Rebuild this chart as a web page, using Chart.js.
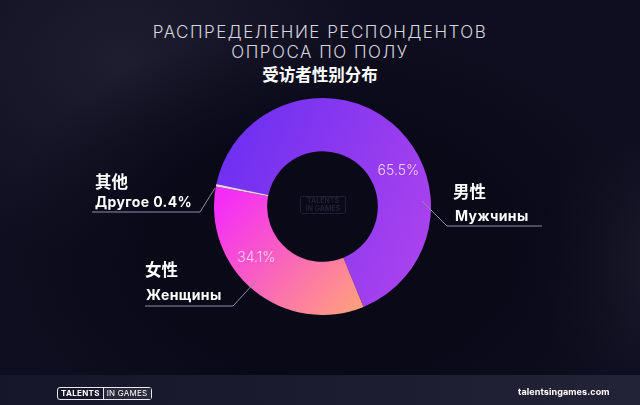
<!DOCTYPE html>
<html>
<head>
<meta charset="utf-8">
<script src="https://cdn.jsdelivr.net/npm/chart.js@4.4.1/dist/chart.umd.min.js"></script>
<style>
  html, body { margin:0; padding:0; }
  body {
    width:640px; height:405px; overflow:hidden; position:relative;
    font-family: "Inter", "Noto Sans", sans-serif;
    background:
      radial-gradient(ellipse 330px 230px at 330px 250px, #0a0918 55%, rgba(10,9,24,0) 100%),
      radial-gradient(ellipse 260px 200px at 120px 60px, #1e1d30 0%, rgba(30,29,48,0) 100%),
      radial-gradient(ellipse 120px 120px at 640px 260px, #1b1a2c 0%, rgba(27,26,44,0) 100%),
      #0f0e20;
  }
  .t1 { position:absolute; left:0; width:640px; text-align:center; color:#d6d5de;
        font-size:17px; font-weight:300; letter-spacing:1.5px; line-height:20px; }
  .cn { position:absolute; left:0; width:640px; text-align:center; color:#fff;
        font-family:"Noto Sans CJK SC"; font-weight:700; font-size:16.5px; top:64px; line-height:20px; }
  .lbl { position:absolute; color:#fff; font-weight:700; white-space:nowrap; }
  .zh { font-family:"Noto Sans CJK SC"; font-size:16.5px; line-height:20px; }
  .ru { font-family:"Inter","Noto Sans",sans-serif; font-size:14px; line-height:18px; letter-spacing:0.4px; }
  #wrap { position:absolute; left:214px; top:98px; width:217px; height:217px; }
  #footer { position:absolute; left:0; top:375px; width:640px; height:30px;
            background: linear-gradient(90deg, #16162a 0%, #1d1d31 60%, #232338 100%); }
  .logo { position:absolute; left:57px; top:387px; height:11px; border:1.3px solid #e8e8f0; border-radius:3px;
          display:flex; align-items:center; font-size:8px; color:#fff; line-height:11px; }
  .logo .a { font-weight:700; padding:0 3px; border-right:1.3px solid #e8e8f0; letter-spacing:0.3px; }
  .logo .b { font-weight:400; padding:0 4px 0 3px; background:#2a2a3c; letter-spacing:0.2px; }
  .site { position:absolute; left:518px; top:385px; color:#fff; font-weight:700; font-size:9px; line-height:14px; letter-spacing:0.1px; }
  .wm { position:absolute; left:300px; top:196px; width:44px; text-align:center; color:#222136;
        font-size:7px; font-weight:700; line-height:8px; border:1px solid #1f1e33; border-radius:2px; }
  svg { position:absolute; left:0; top:0; }
</style>
</head>
<body>
<div class="t1" style="top:22px">РАСПРЕДЕЛЕНИЕ РЕСПОНДЕНТОВ</div>
<div class="t1" style="top:42px">ОПРОСА ПО ПОЛУ</div>
<div class="cn">受访者性别分布</div>

<div id="wrap"><canvas id="c" width="217" height="217"></canvas></div>
<div class="wm">TALENTS<br>IN GAMES</div>

<svg width="640" height="405">
  <polyline points="422,201 447,226 542,226" fill="none" stroke="#8e8ea6" stroke-width="1"/>
  <polyline points="92,212 200,212 215,188" fill="none" stroke="#8e8ea6" stroke-width="1"/>
  <polyline points="145,306 233,306 256,281" fill="none" stroke="#8e8ea6" stroke-width="1"/>
</svg>

<div class="lbl zh" style="left:453px;top:181px">男性</div>
<div class="lbl ru" style="left:455px;top:207px">Мужчины</div>
<div class="lbl zh" style="left:95px;top:171px">其他</div>
<div class="lbl ru" style="left:95px;top:193px">Другое 0.4%</div>
<div class="lbl zh" style="left:145px;top:259px">女性</div>
<div class="lbl ru" style="left:146px;top:286px">Женщины</div>

<div id="footer"></div>
<div class="logo"><span class="a">TALENTS</span><span class="b">IN GAMES</span></div>
<div class="site">talentsingames.com</div>

<script>
const categories = ["Мужчины", "Женщины", "Другое"];
const values = [65.5, 34.1, 0.4];
const valueLabels = ["65.5%", "34.1%", ""];

function grad(ctx, area, x0, y0, x1, y1, c0, c1) {
  const g = ctx.createLinearGradient(area.left + x0 * area.width, area.top + y0 * area.height,
                                     area.left + x1 * area.width, area.top + y1 * area.height);
  g.addColorStop(0, c0); g.addColorStop(1, c1);
  return g;
}

const pctPlugin = {
  id: 'pct',
  afterDatasetsDraw(chart) {
    const ctx = chart.ctx;
    const meta = chart.getDatasetMeta(0);
    ctx.save();
    ctx.font = '300 14px Inter, "Noto Sans", sans-serif';
    ctx.fillStyle = 'rgba(248,225,250,0.88)';
    ctx.textAlign = 'center';
    ctx.textBaseline = 'middle';
    meta.data.forEach((arc, i) => {
      if (!valueLabels[i]) return;
      const p = arc.getProps(['x','y','startAngle','endAngle','innerRadius','outerRadius'], true);
      const a = p.startAngle + 0.605 * (p.endAngle - p.startAngle);
      const r = (p.innerRadius + p.outerRadius) / 2 + 2;
      ctx.fillText(valueLabels[i], p.x + r * Math.cos(a), p.y + r * Math.sin(a));
    });
    ctx.restore();
  }
};

new Chart(document.getElementById('c'), {
  type: 'doughnut',
  data: {
    labels: categories,
    datasets: [{
      data: values,
      borderWidth: 0,
      backgroundColor(context) {
        const chart = context.chart;
        const area = chart.chartArea;
        if (!area) return '#8a3cf0';
        const ctx = chart.ctx;
        if (context.dataIndex === 0) return grad(ctx, area, 0, 0.2, 1, 0.6, '#6a2ff1', '#a942ee');
        if (context.dataIndex === 1) return grad(ctx, area, 0.05, 0.45, 0.65, 1.0, '#f42cf8', '#ffa07c');
        return '#f2c9f4';
      }
    }]
  },
  options: {
    responsive: false,
    devicePixelRatio: 1,
    animation: false,
    rotation: 282,
    cutout: '51%',
    layout: { padding: 0 },
    plugins: { legend: { display: false }, tooltip: { enabled: false } }
  },
  plugins: [pctPlugin]
});
</script>
</body>
</html>
